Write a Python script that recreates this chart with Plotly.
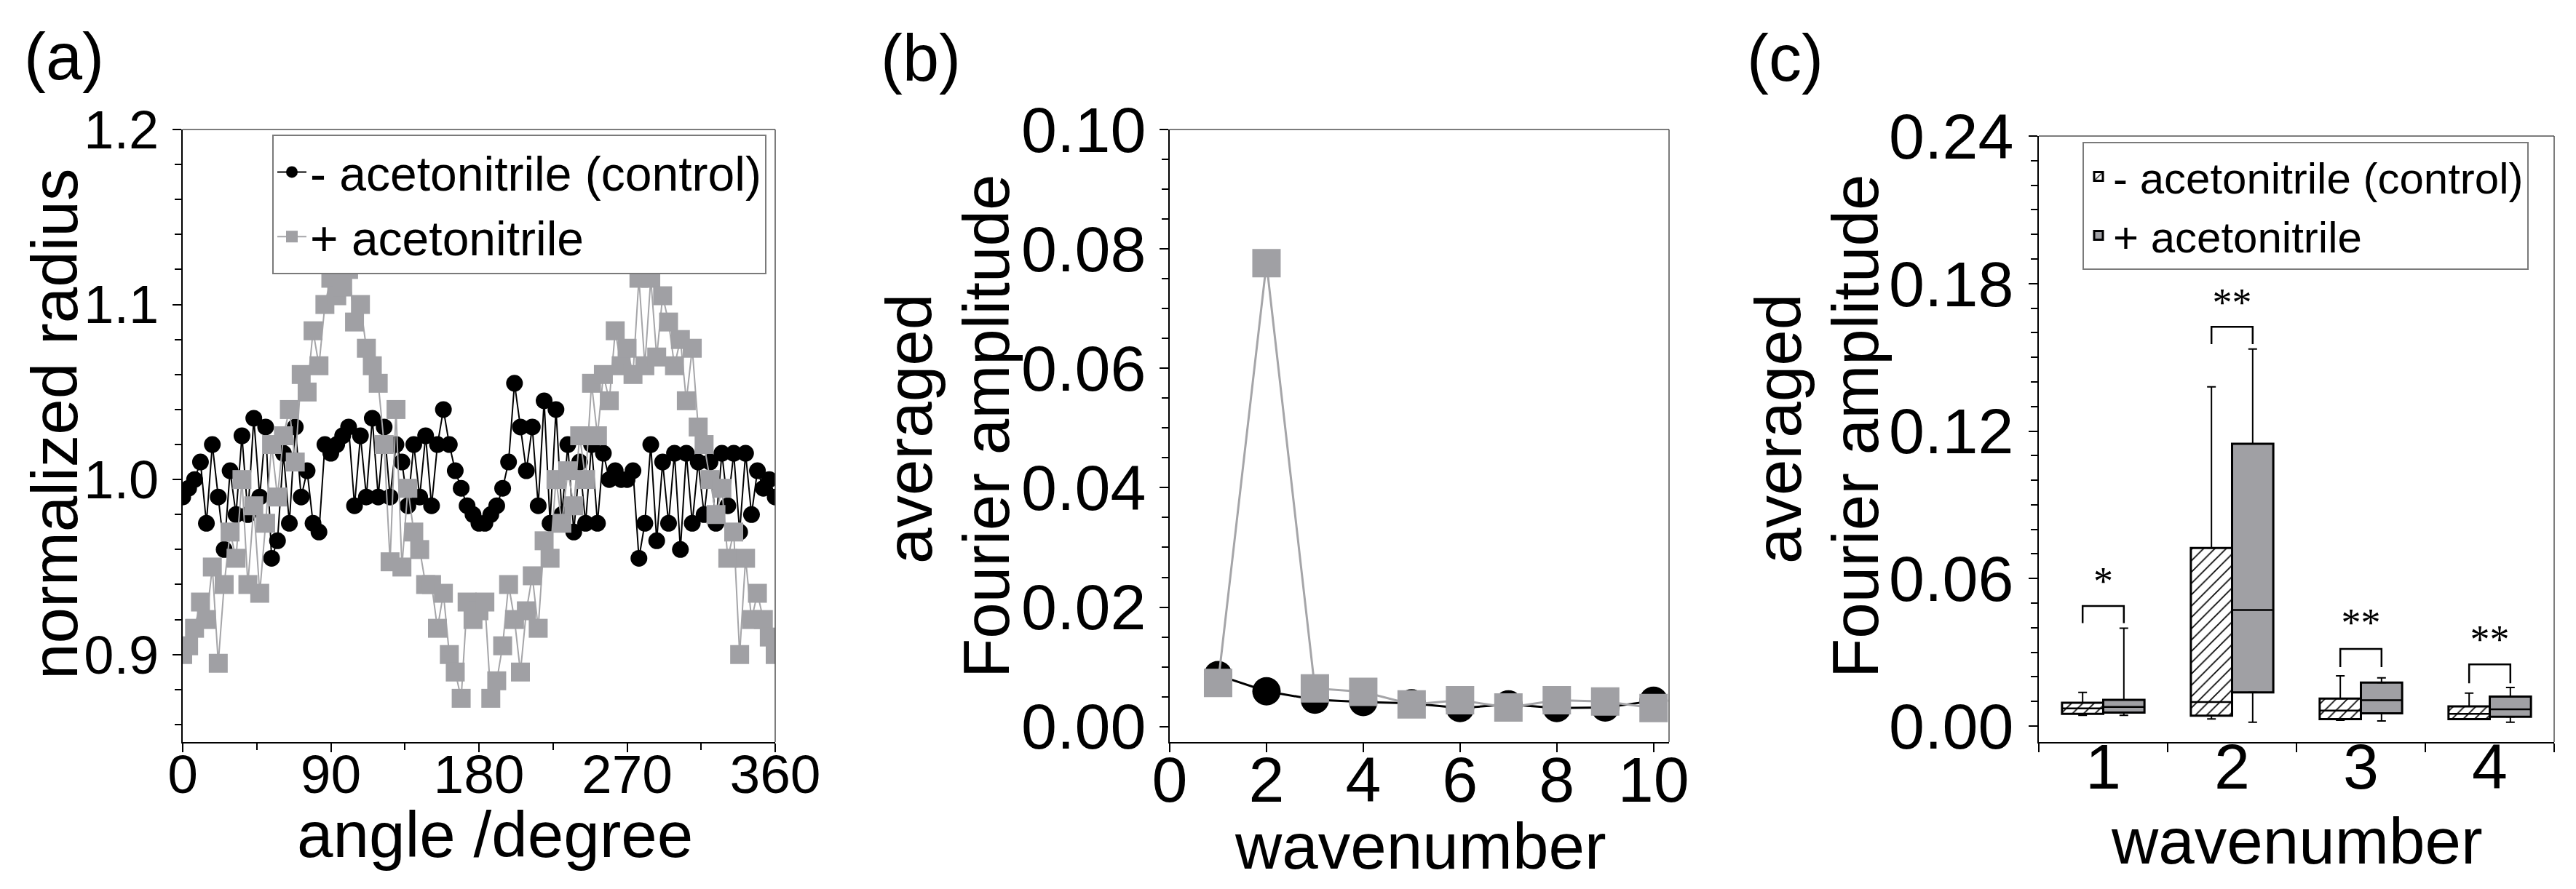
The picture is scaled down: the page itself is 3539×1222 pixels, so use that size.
import plotly.graph_objects as go

# ---------------- data ----------------
# (a) normalized radius vs angle
angles = [0, 3.6, 7.2, 10.8, 14.4, 18, 21.6, 25.2, 28.8, 32.4, 36, 39.6, 43.2, 46.8, 50.4,
          54, 57.6, 61.2, 64.8, 68.4, 72, 75.6, 79.2, 82.8, 86.4, 90, 93.6, 97.2, 100.8,
          104.4, 108, 111.6, 115.2, 118.8, 122.4, 126, 129.6, 133.2, 136.8, 140.4, 144,
          147.6, 151.2, 154.8, 158.4, 162, 165.6, 169.2, 172.8, 176.4, 180, 183.6, 187.2,
          190.8, 194.4, 198, 201.6, 205.2, 208.8, 212.4, 216, 219.6, 223.2, 226.8, 230.4,
          234, 237.6, 241.2, 244.8, 248.4, 252, 255.6, 259.2, 262.8, 266.4, 270, 273.6,
          277.2, 280.8, 284.4, 288, 291.6, 295.2, 298.8, 302.4, 306, 309.6, 313.2, 316.8,
          320.4, 324, 327.6, 331.2, 334.8, 338.4, 342, 345.6, 349.2, 352.8, 356.4, 360]

radius_control = [
    0.990, 0.995, 1.000, 1.010, 0.975, 1.020, 0.990, 0.960, 1.005, 0.980,
    1.025, 0.980, 1.035, 0.990, 1.030, 0.955, 0.965, 1.015, 0.975, 1.030,
    0.990, 1.005, 0.975, 0.970, 1.020, 1.015, 1.020, 1.025, 1.030, 0.985,
    1.025, 0.990, 1.035, 0.990, 1.030, 0.990, 1.020, 1.010, 0.985, 1.020,
    0.990, 1.025, 0.985, 1.020, 1.040, 1.020, 1.005, 0.995, 0.985, 0.980,
    0.975, 0.975, 0.980, 0.985, 0.995, 1.010, 1.055, 1.030, 1.005, 1.030,
    0.985, 1.045, 0.975, 1.040, 0.980, 1.020, 0.970, 1.010, 0.975, 1.020,
    0.975, 1.015, 1.000, 1.005, 1.000, 1.000, 1.005, 0.955, 0.975, 1.020,
    0.965, 1.010, 0.975, 1.015, 0.960, 1.015, 0.975, 1.010, 0.980, 1.010,
    0.975, 1.015, 0.985, 1.015, 0.970, 1.015, 0.980, 1.005, 0.995, 1.000, 0.990]

radius_treated = [
    0.900, 0.905, 0.915, 0.930, 0.920, 0.950, 0.895, 0.940, 0.970, 0.955,
    1.000, 0.940, 0.985, 0.935, 0.975, 1.020, 0.990, 1.025, 1.040, 1.010,
    1.060, 1.050, 1.085, 1.065, 1.100, 1.115, 1.105, 1.110, 1.120, 1.090,
    1.100, 1.075, 1.065, 1.055, 1.020, 0.953, 1.040, 0.950, 0.995, 0.970,
    0.960, 0.940, 0.940, 0.915, 0.935, 0.900, 0.890, 0.875, 0.930, 0.920,
    0.925, 0.930, 0.875, 0.885, 0.905, 0.940, 0.920, 0.890, 0.925, 0.945,
    0.915, 0.965, 0.955, 1.000, 0.975, 1.005, 0.985, 1.025, 1.000, 1.055,
    1.025, 1.060, 1.045, 1.085, 1.065, 1.075, 1.060, 1.115, 1.065, 1.115,
    1.070, 1.105, 1.090, 1.065, 1.080, 1.045, 1.075, 1.030, 1.020, 1.000,
    0.980, 0.995, 0.955, 0.970, 0.900, 0.955, 0.920, 0.935, 0.920, 0.910, 0.900]

# (b) averaged Fourier amplitude vs wavenumber
wavenumber = [1, 2, 3, 4, 5, 6, 7, 8, 9, 10]
amp_control = [0.0086, 0.0059, 0.0045, 0.0041, 0.0039, 0.0031, 0.0037, 0.0031, 0.0032, 0.0043]
amp_treated = [0.0073, 0.0776, 0.0064, 0.0058, 0.0037, 0.0044, 0.0032, 0.0044, 0.0042, 0.0031]

# (c) box statistics per wavenumber
wave_c = [1, 2, 3, 4]
ctrl_lo = [0.0044, 0.0029, 0.0024, 0.0028]
ctrl_q1 = [0.0050, 0.0042, 0.0028, 0.0028]
ctrl_med = [0.0072, 0.0098, 0.0063, 0.0050]
ctrl_q3 = [0.0095, 0.0724, 0.0112, 0.0080]
ctrl_hi = [0.0137, 0.1380, 0.0204, 0.0134]
trt_lo = [0.0044, 0.0016, 0.0021, 0.0016]
trt_q1 = [0.0055, 0.0137, 0.0052, 0.0038]
trt_med = [0.0078, 0.0472, 0.0105, 0.0068]
trt_q3 = [0.0107, 0.1148, 0.0177, 0.0120]
trt_hi = [0.0398, 0.1534, 0.0196, 0.0157]
sig_labels = ["*", "**", "**", "**"]
bracket_top = [0.0488, 0.1624, 0.0314, 0.0251]
bracket_leg = [0.0419, 0.1554, 0.0240, 0.0174]
sig_y = [0.0576, 0.1709, 0.0407, 0.0338]

name_ctrl = "- acetonitrile (control)"
name_trt = "+ acetonitrile"

# ---------------- style ----------------
W, H = 3539, 1222
OFF = 8  # page body margin compensation
FONT = "Liberation Sans"
BLACK = "#000000"
GRAY = "rgb(160,160,164)"
GRAY_LINE = "rgb(165,165,168)"
FRAME = "#505050"
BOX_HALF = 0.16


def px(x):
    return (x - OFF) / W


def py(y):
    return 1 - (y - OFF) / H


fig = go.Figure()

# ---- (a) ----
fig.add_trace(go.Scatter(x=angles, y=radius_control, mode="lines+markers", name=name_ctrl,
                         line=dict(color=BLACK, width=2),
                         marker=dict(symbol="circle", size=23, color=BLACK),
                         xaxis="x", yaxis="y", legend="legend"))
fig.add_trace(go.Scatter(x=angles, y=radius_treated, mode="lines+markers", name=name_trt,
                         line=dict(color=GRAY_LINE, width=2),
                         marker=dict(symbol="square", size=26, color=GRAY),
                         xaxis="x", yaxis="y", legend="legend"))

# ---- (b) ----
fig.add_trace(go.Scatter(x=wavenumber, y=amp_control, mode="lines+markers", showlegend=False,
                         line=dict(color=BLACK, width=3),
                         marker=dict(symbol="circle", size=39, color=BLACK),
                         xaxis="x2", yaxis="y2"))
fig.add_trace(go.Scatter(x=wavenumber, y=amp_treated, mode="lines+markers", showlegend=False,
                         line=dict(color=GRAY_LINE, width=3),
                         marker=dict(symbol="square", size=39, color=GRAY),
                         xaxis="x2", yaxis="y2"))

# ---- (c) ----
ctrl_x = [c - BOX_HALF for c in wave_c]
trt_x = [c + BOX_HALF for c in wave_c]

fig.add_trace(go.Bar(x=ctrl_x, y=[b - a for a, b in zip(ctrl_q1, ctrl_q3)], base=ctrl_q1,
                     width=2 * BOX_HALF, name=name_ctrl, legend="legend2",
                     marker=dict(color="white", line=dict(color=BLACK, width=3),
                                 pattern=dict(shape="/", fgcolor=BLACK, bgcolor="white",
                                              size=11, solidity=0.15)),
                     xaxis="x3", yaxis="y3"))
fig.add_trace(go.Bar(x=trt_x, y=[b - a for a, b in zip(trt_q1, trt_q3)], base=trt_q1,
                     width=2 * BOX_HALF, name=name_trt, legend="legend2",
                     marker=dict(color=GRAY, line=dict(color=BLACK, width=3)),
                     xaxis="x3", yaxis="y3"))

for xs, q1, q3, lo, hi in [(ctrl_x, ctrl_q1, ctrl_q3, ctrl_lo, ctrl_hi),
                           (trt_x, trt_q1, trt_q3, trt_lo, trt_hi)]:
    fig.add_trace(go.Scatter(x=xs, y=q3, mode="markers", showlegend=False, hoverinfo="skip",
                             marker=dict(size=1, color="rgba(0,0,0,0)"),
                             error_y=dict(type="data", symmetric=False,
                                          array=[h - q for q, h in zip(q3, hi)],
                                          arrayminus=[0] * len(q3),
                                          color=BLACK, thickness=2, width=6),
                             xaxis="x3", yaxis="y3"))
    fig.add_trace(go.Scatter(x=xs, y=q1, mode="markers", showlegend=False, hoverinfo="skip",
                             marker=dict(size=1, color="rgba(0,0,0,0)"),
                             error_y=dict(type="data", symmetric=False,
                                          array=[0] * len(q1),
                                          arrayminus=[q - l for q, l in zip(q1, lo)],
                                          color=BLACK, thickness=2, width=6),
                             xaxis="x3", yaxis="y3"))

for xs, med in [(ctrl_x, ctrl_med), (trt_x, trt_med)]:
    mx, my = [], []
    for x, m in zip(xs, med):
        mx += [x - BOX_HALF, x + BOX_HALF, None]
        my += [m, m, None]
    fig.add_trace(go.Scatter(x=mx, y=my, mode="lines", showlegend=False, hoverinfo="skip",
                             line=dict(color=BLACK, width=2.5), xaxis="x3", yaxis="y3"))

bx, by = [], []
for c, top, leg in zip(wave_c, bracket_top, bracket_leg):
    bx += [c - BOX_HALF, c - BOX_HALF, c + BOX_HALF, c + BOX_HALF, None]
    by += [leg, top, top, leg, None]
fig.add_trace(go.Scatter(x=bx, y=by, mode="lines", showlegend=False, hoverinfo="skip",
                         line=dict(color=BLACK, width=2.5), xaxis="x3", yaxis="y3"))
fig.add_trace(go.Scatter(x=wave_c, y=sig_y, mode="text", text=sig_labels, showlegend=False,
                         textfont=dict(family="Liberation Serif", size=54, color=BLACK),
                         textposition="middle center", xaxis="x3", yaxis="y3"))

# ---------------- axes ----------------
def axis(size, **kw):
    d = dict(showline=True, linecolor=BLACK, linewidth=2, ticks="outside", ticklen=12,
             tickwidth=2, tickcolor=BLACK, showgrid=False, zeroline=False, automargin=False,
             tickfont=dict(family=FONT, size=size, color=BLACK))
    d.update(kw)
    return d


minor_style = dict(ticks="outside", ticklen=9, tickwidth=1.5, tickcolor=BLACK, showgrid=False)

ydom = [py(1020), py(178)]
fig.update_layout(
    template="none",
    xaxis=axis(75, domain=[px(251), px(1065)], range=[0, 360], anchor="y",
               tickmode="array", tickvals=[0, 90, 180, 270, 360], ticklabelstandoff=-34,
               minor=dict(tickvals=[45, 135, 225, 315], **minor_style)),
    yaxis=axis(74, domain=ydom, range=[0.85, 1.2], anchor="x",
               tickmode="array", tickvals=[0.9, 1.0, 1.1, 1.2], tickformat=".1f",
               ticklabelstandoff=4,
               minor=dict(tickvals=[0.86, 0.88, 0.92, 0.94, 0.96, 0.98, 1.02, 1.04, 1.06,
                                    1.08, 1.12, 1.14, 1.16, 1.18], **minor_style)),
    xaxis2=axis(88, domain=[px(1607), px(2293)], range=[0, 10.32], anchor="y2",
                tickmode="linear", tick0=0, dtick=2, ticklabelstandoff=-38),
    yaxis2=axis(88, domain=ydom, range=[-0.0026, 0.1], anchor="x2",
                tickmode="linear", tick0=0, dtick=0.02, tickformat=".2f",
                ticklabelstandoff=1,
                minor=dict(tick0=0, dtick=0.005, **minor_style)),
    xaxis3=axis(88, domain=[px(2801), px(3509)], range=[0.5, 4.5], anchor="y3",
                tickmode="array", tickvals=[1, 2, 3, 4], ticks="", ticklabelstandoff=-44,
                minor=dict(tickvals=[0.5, 1.5, 2.5, 3.5, 4.5], ticks="outside", ticklen=12,
                           tickwidth=2, tickcolor=BLACK, showgrid=False)),
    yaxis3=axis(88, domain=[py(1020), py(187)], range=[-0.0065, 0.24], anchor="x3",
                tickmode="linear", tick0=0, dtick=0.06, tickformat=".2f",
                ticklabelstandoff=3,
                minor=dict(tick0=0, dtick=0.01, **minor_style)),
)

# thin top / right frame lines
for xa, ya in [("x", "y"), ("x2", "y2"), ("x3", "y3")]:
    fig.add_shape(type="line", xref=f"{xa} domain", yref=f"{ya} domain", x0=0, x1=1, y0=1, y1=1,
                  line=dict(color=FRAME, width=1.5))
    fig.add_shape(type="line", xref=f"{xa} domain", yref=f"{ya} domain", x0=1, x1=1, y0=0, y1=1,
                  line=dict(color=FRAME, width=1.5))

# ---------------- text ----------------
TITLE = 89
texts = [
    ("(a)", 88, 78, 0, 90), ("(b)", 1265, 80, 0, 90), ("(c)", 2452, 80, 0, 90),
    ("normalized radius", 75, 583, -90, TITLE),
    ("angle /degree", 680, 1147, 0, TITLE),
    ("averaged", 1249, 590, -90, TITLE), ("Fourier amplitude", 1355, 586, -90, TITLE),
    ("wavenumber", 1951, 1163, 0, TITLE),
    ("averaged", 2443, 590, -90, TITLE), ("Fourier amplitude", 2549, 586, -90, TITLE),
    ("wavenumber", 3155, 1156, 0, TITLE),
]
for t, x, y, ang, size in texts:
    fig.add_annotation(text=t, x=px(x), y=py(y), xref="paper", yref="paper",
                       xanchor="center", yanchor="middle", textangle=ang, showarrow=False,
                       font=dict(family=FONT, size=size, color=BLACK))

fig.update_layout(
    width=W, height=H, margin=dict(l=0, r=0, t=0, b=0, pad=0, autoexpand=False),
    paper_bgcolor="white", plot_bgcolor="white",
    font=dict(family=FONT, color=BLACK),
    barmode="overlay",
    legend=dict(x=px(374), y=py(185), xanchor="left", yanchor="top",
                bordercolor="#7a7a7a", borderwidth=2, bgcolor="white",
                font=dict(family=FONT, size=66, color=BLACK), tracegroupgap=0, itemwidth=40),
    legend2=dict(x=px(2861), y=py(195), xanchor="left", yanchor="top",
                 bordercolor="#7a7a7a", borderwidth=2, bgcolor="white",
                 font=dict(family=FONT, size=60, color=BLACK), tracegroupgap=0, itemwidth=30),
)

fig.write_html("out.html")
